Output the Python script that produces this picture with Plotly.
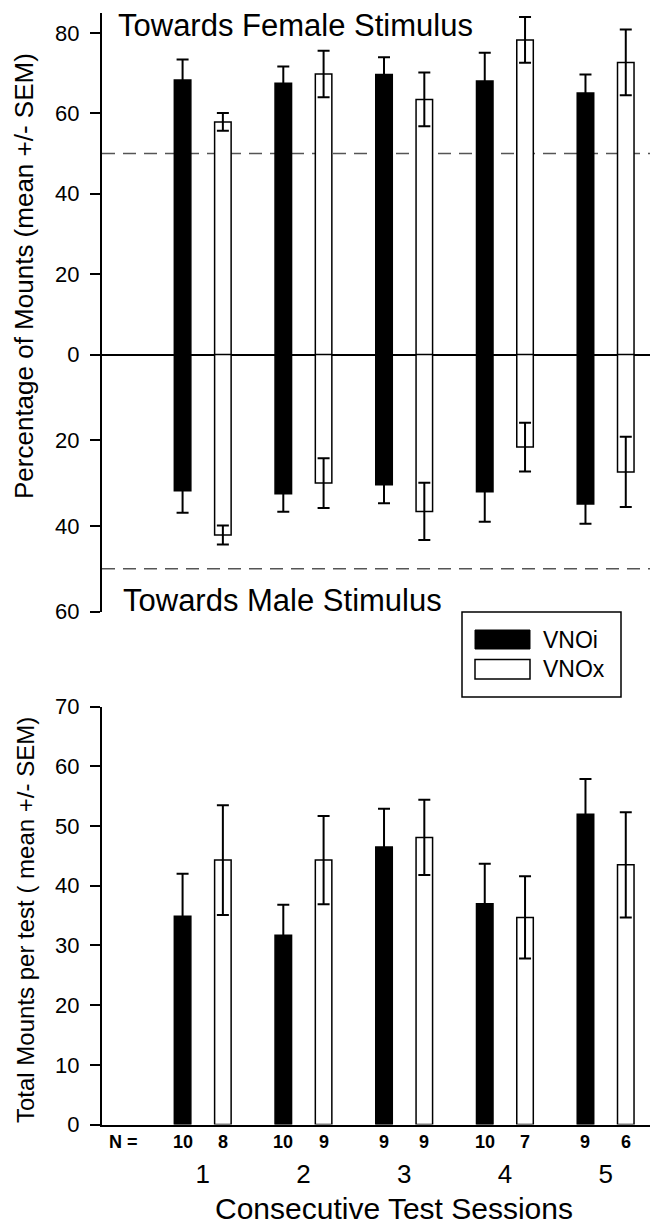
import plotly.graph_objects as go

# ---------------- data ----------------
sessions = [1, 2, 3, 4, 5]
session_labels = ["1", "2", "3", "4", "5"]

# Percentage of mounts towards female stimulus
fem_vnoi = [68.3, 67.5, 69.7, 68.1, 65.1]
fem_vnox = [57.9, 69.8, 63.5, 78.3, 72.7]
# Percentage of mounts towards male stimulus
male_vnoi = [31.8, 32.5, 30.4, 32.0, 34.9]
male_vnox = [42.1, 30.0, 36.6, 21.6, 27.4]
# SEM of preference percentages
sem_pref_vnoi = [5.1, 4.2, 4.3, 7.0, 4.6]
sem_pref_vnox = [2.2, 5.8, 6.7, 5.7, 8.2]

# Total mounts per test
total_vnoi = [34.9, 31.7, 46.5, 37.0, 52.0]
total_vnox = [44.3, 44.3, 48.1, 34.7, 43.5]
sem_total_vnoi = [7.1, 5.1, 6.4, 6.7, 5.9]
sem_total_vnox = [9.2, 7.4, 6.3, 6.9, 8.8]

# Group sizes
n_vnoi = [10, 10, 9, 10, 9]
n_vnox = [8, 9, 9, 7, 6]

upper_ticks = [0, 20, 40, 60, 80]
lower_ticks = [20, 40, 60]
total_ticks = [0, 10, 20, 30, 40, 50, 60, 70]

# ---------------- layout helpers ----------------
PAGE_OFF = 8           # default body margin of the html page
W, H = 658 - PAGE_OFF, 1229 - PAGE_OFF
FONT = "Liberation Sans, Arial, Helvetica, sans-serif"


def px(x):
    """page pixel x -> paper fraction"""
    return (x - PAGE_OFF) / W


def py(y):
    """page pixel y -> paper fraction"""
    return 1 - (y - PAGE_OFF) / H


BAR_OFFSET = 0.2  # half distance between the two bars of a group (x units)

err_style = dict(type="data", visible=True, color="black", thickness=2, width=6)


def bar(xs, ys, errs, filled, xa, ya):
    return go.Bar(
        x=xs, y=ys,
        xaxis=xa, yaxis=ya,
        marker=dict(color="black" if filled else "white",
                    line=dict(color="black", width=1.5)),
        error_y=dict(array=errs, **err_style),
        showlegend=False,
        hoverinfo="skip",
    )


fig = go.Figure()
# Top panel, upper half (towards female)
fig.add_trace(bar(sessions, fem_vnoi, sem_pref_vnoi, True, "x", "y"))
fig.add_trace(bar(sessions, fem_vnox, sem_pref_vnox, False, "x", "y"))
# Top panel, lower half (towards male)
fig.add_trace(bar(sessions, male_vnoi, sem_pref_vnoi, True, "x2", "y2"))
fig.add_trace(bar(sessions, male_vnox, sem_pref_vnox, False, "x2", "y2"))
# Bottom panel
fig.add_trace(bar(sessions, total_vnoi, sem_total_vnoi, True, "x3", "y3"))
fig.add_trace(bar(sessions, total_vnox, sem_total_vnox, False, "x3", "y3"))

x_dom = [px(102), 1]
x_range = [0, 5.52]

yax_common = dict(
    showline=True, linecolor="black", linewidth=2,
    ticks="outside", ticklen=10, tickwidth=2, tickcolor="black",
    tickfont=dict(family=FONT, size=22, color="black"),
    showgrid=False, zeroline=False, automargin=False,
    ticklabelstandoff=6, layer="above traces",
)

fig.update_layout(
    width=W, height=H,
    margin=dict(l=0, r=0, t=0, b=0),
    template="none",
    paper_bgcolor="white", plot_bgcolor="rgba(0,0,0,0)",
    barmode="group", bargap=0.2, bargroupgap=0.59,
    showlegend=False,
    font=dict(family=FONT, color="black"),
    xaxis=dict(domain=x_dom, range=x_range, anchor="y",
               showline=True, linecolor="black", linewidth=1,
               layer="above traces",
               ticks="", showticklabels=False, showgrid=False, zeroline=False),
    yaxis=dict(domain=[py(354.5), py(13)], range=[0, 85],
               tickvals=upper_ticks, anchor="x", **yax_common),
    xaxis2=dict(domain=x_dom, range=x_range, anchor="y2", side="top",
                showline=True, linecolor="black", linewidth=1,
                layer="above traces",
                ticks="", showticklabels=False,
                showgrid=False, zeroline=False),
    yaxis2=dict(domain=[py(611.7), py(354.5)], range=[60, 0],
                tickvals=lower_ticks, anchor="x2", **yax_common),
    xaxis3=dict(domain=x_dom, range=x_range, anchor="y3",
                showline=True, linecolor="black", linewidth=2,
                layer="above traces",
                ticks="", tickvals=sessions, ticktext=session_labels,
                tickfont=dict(family=FONT, size=26, color="black"),
                ticklabelstandoff=25,
                showgrid=False, zeroline=False, automargin=False),
    yaxis3=dict(domain=[py(1124.5), py(706.7)], range=[0, 70],
                tickvals=total_ticks, anchor="x3", **yax_common),
)

# dashed 50% reference lines
dash_line = dict(color="#555555", width=1.5, dash="13px,8px")
fig.add_shape(type="line", xref="x domain", yref="y", x0=0, x1=1, y0=50, y1=50,
              line=dash_line, layer="below")
fig.add_shape(type="line", xref="x2 domain", yref="y2", x0=0, x1=1, y0=50, y1=50,
              line=dash_line, layer="below")

# legend (drawn)
fig.add_shape(type="rect", xref="paper", yref="paper",
              x0=px(462), x1=px(621), y0=py(697), y1=py(612),
              line=dict(color="black", width=1.5), fillcolor="white")
fig.add_shape(type="rect", xref="paper", yref="paper",
              x0=px(475), x1=px(530), y0=py(649), y1=py(630),
              line=dict(color="black", width=1), fillcolor="black")
fig.add_shape(type="rect", xref="paper", yref="paper",
              x0=px(475), x1=px(530), y0=py(679), y1=py(659.5),
              line=dict(color="black", width=1.5), fillcolor="white")

annots = []


def txt(text, x, y, size, xanchor="center", yanchor="middle", bold=False,
        angle=0, xref="paper"):
    annots.append(dict(
        text=f"<b>{text}</b>" if bold else text,
        x=x, y=y, xref=xref, yref="paper",
        xanchor=xanchor, yanchor=yanchor, textangle=angle,
        showarrow=False, font=dict(family=FONT, size=size, color="black"),
    ))


txt("VNOi", px(541), py(639.5), 23, xanchor="left")
txt("VNOx", px(541), py(669), 23, xanchor="left")

txt("Towards Female Stimulus", px(116), py(25.5), 31, xanchor="left")
txt("Towards Male Stimulus", px(121), py(600), 31, xanchor="left")

txt("Percentage of Mounts (mean +/- SEM)", px(24), py(276), 26, angle=-90)
txt("Total Mounts per test ( mean +/- SEM)", px(25), py(920), 24, angle=-90)
txt("Consecutive Test Sessions", px(393.5), py(1208), 30)

# N row
txt("N =", px(123), py(1142), 18, bold=True)
for s, a, b in zip(sessions, n_vnoi, n_vnox):
    txt(str(a), s - BAR_OFFSET, py(1142), 18, bold=True, xref="x3")
    txt(str(b), s + BAR_OFFSET, py(1142), 18, bold=True, xref="x3")

fig.update_layout(annotations=annots)

fig.write_html("out.html")
